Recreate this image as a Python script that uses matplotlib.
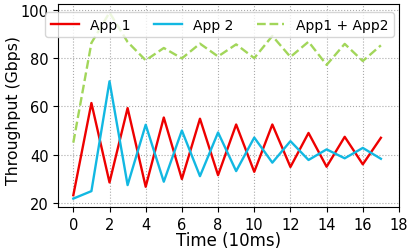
import matplotlib
matplotlib.use("Agg")
import matplotlib.pyplot as plt
import numpy as np

time = list(range(18))
app1 = [23.2, 61.4, 28.5, 59.3, 26.7, 55.4, 29.9, 54.9, 31.5, 52.5,
        32.9, 52.5, 34.9, 49.0, 35.0, 47.4, 36.0, 47.0]
app2 = [21.8, 24.9, 70.4, 27.4, 52.4, 28.8, 50.0, 31.1, 49.2, 33.2,
        47.1, 36.7, 45.6, 37.8, 42.2, 38.5, 42.8, 38.3]
total = [a + b for a, b in zip(app1, app2)]

fig = plt.figure(figsize=(4.15, 2.53), dpi=100)
ax = fig.add_axes([0.1405, 0.1767, 0.8209, 0.8033])

ax.plot(time, app1, color="#ee0000", lw=1.7, label="App 1")
ax.plot(time, app2, color="#12b8e2", lw=1.7, label="App 2")
ax.plot(time, total, color="#a2d65a", lw=1.7, ls="--", label="App1 + App2")

ax.set_xlim(-0.83, 18)
ax.set_ylim(18.2, 102.4)
ax.set_xticks(range(0, 19, 2))
ax.set_yticks(range(20, 101, 20))
ax.tick_params(labelsize=10.5)
ax.grid(True, ls=":", color="#aaaaaa", lw=0.8)
ax.set_xlabel("Time (10ms)", fontsize=12, labelpad=-1)
ax.set_ylabel("Throughput (Gbps)", fontsize=11.3)
ax.yaxis.set_label_coords(-0.11, 0.48)
ax.legend(loc="upper center", ncol=3, fontsize=10, bbox_to_anchor=(0.473, 0.995),
          handlelength=2.0, columnspacing=1.7, borderaxespad=0.5)

fig.savefig("out.png", dpi=100)
